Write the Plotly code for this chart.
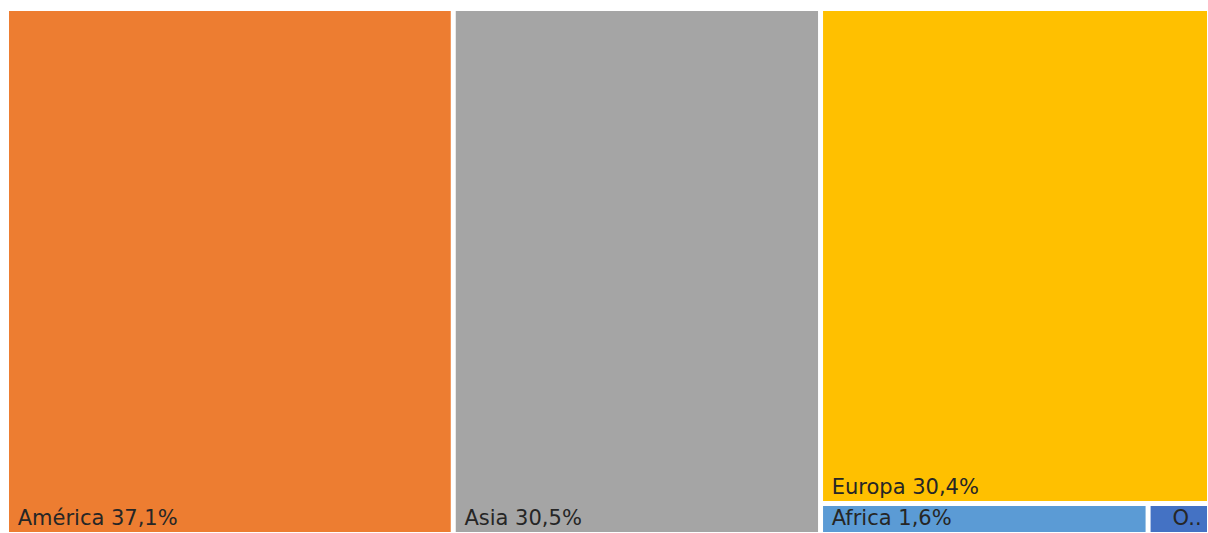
import plotly.graph_objects as go

regions = ["América", "Asia", "Europa", "Africa", "Oceania"]
shares = [37.1, 30.5, 30.4, 1.6, 0.3]
display = ["América", "Asia", "Europa", "Africa", "O.."]
colors = ["#ED7D31", "#A5A5A5", "#FFC000", "#5B9BD5", "#4472C4"]

templates = [f"\u00a0{d} %{{value:.1f}}%" for d in display[:-1]] + ["\u00a0\u00a0\u00a0" + display[-1]]

fig = go.Figure(go.Treemap(
    labels=regions,
    parents=[""] * len(regions),
    values=shares,
    texttemplate=templates,
    textposition="bottom left",
    textfont=dict(family="DejaVu Sans", size=21, color="#262626"),
    marker=dict(colors=colors, line=dict(color="white", width=2), pad=dict(t=0, l=0, r=0, b=0)),
    pathbar=dict(visible=False),
    sort=True,
    hoverinfo="label+value",
))

fig.update_layout(
    width=1208, height=533,
    margin=dict(l=8, r=0, t=10, b=0),
    separators=",.",
    paper_bgcolor="white",
    showlegend=False,
    uniformtext=dict(minsize=21, mode="show"),
)

fig.write_html(
    "out.html",
    config={"displayModeBar": False},
    post_script="document.body.style.margin='0';document.body.style.overflow='hidden';",
)
